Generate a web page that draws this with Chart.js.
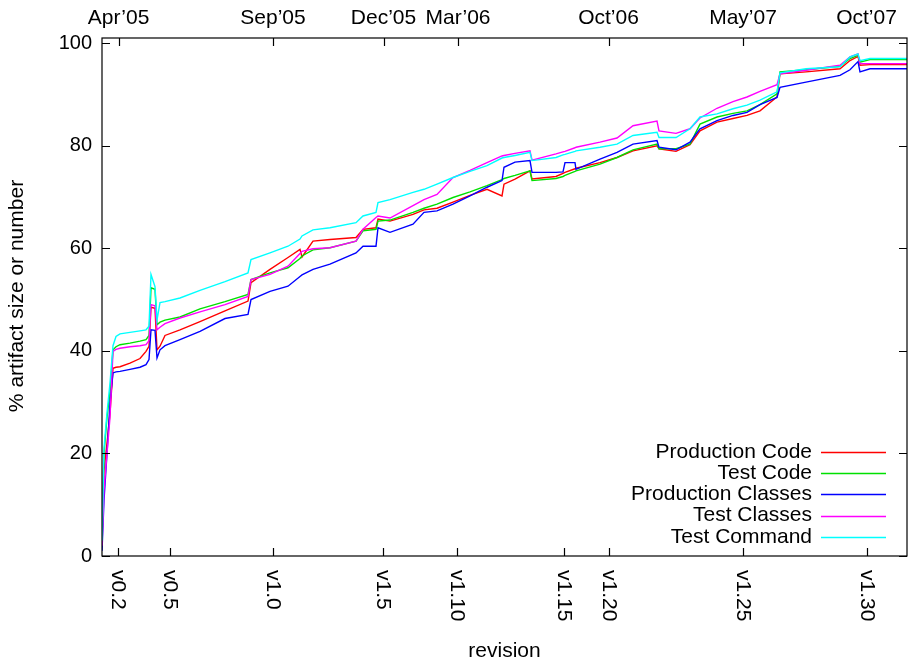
<!DOCTYPE html>
<html>
<head>
<meta charset="utf-8">
<title>Artifact growth per revision</title>
<script src="https://cdn.jsdelivr.net/npm/chart.js@4.4.0/dist/chart.umd.min.js"></script>
<style>
  html, body { margin: 0; padding: 0; background: #fff; }
  #wrap { width: 909px; height: 663px; }
</style>
</head>
<body>
<div id="wrap"><canvas id="chart" width="909" height="663"></canvas></div>
<script>
// Sampled revision numbers (x) and the share of the final size per artifact kind (%)
const revisions = [
    0, 20, 50, 80, 110, 140, 180, 280, 380, 440,
    470, 490, 530, 550, 580, 630, 780, 980, 1230, 1460,
    1490, 1680, 1860, 1980, 2000, 2110, 2280, 2540, 2610, 2740,
    2760, 2880, 3110, 3220, 3350, 3510, 3680, 3850, 4000, 4020,
    4130, 4280, 4300, 4540, 4610, 4630, 4730, 4740, 4980, 5150,
    5310, 5550, 5570, 5740, 5880, 5980, 6150, 6310, 6450, 6580,
    6750, 6780, 7040, 7380, 7480, 7560, 7580, 7680, 8050
];

const productionCode = [
    3, 16.7, 22, 27.8, 36.6, 36.8, 36.9, 37.6, 38.5, 39.9,
    40.9, 48.5, 48.3, 40.2, 40.9, 43.0, 44.1, 45.7, 47.8, 49.7,
    53.3, 55.9, 58.2, 59.8, 58.3, 61.4, 61.7, 62.1, 63.7, 64.0,
    65.7, 65.3, 66.6, 67.5, 67.8, 69.0, 70.3, 71.5, 70.2, 72.5,
    73.5, 75.1, 73.5, 74.0, 74.6, 74.8, 75.5, 75.6, 76.7, 77.7,
    79.0, 80.0, 79.4, 78.9, 80.2, 82.9, 84.6, 85.3, 85.9, 86.8,
    89.5, 94.0, 94.4, 95.0, 96.6, 97.4, 95.7, 95.8, 95.8
];

const testCode = [
    4, 20, 27, 32, 40.2, 40.8, 41.2, 41.5, 41.9, 42.2,
    43.0, 52.3, 52.0, 45.1, 45.6, 46.0, 46.6, 48.2, 49.6, 51.0,
    53.9, 55.2, 56.2, 58.0, 58.5, 59.7, 60.1, 61.4, 63.4, 63.7,
    65.3, 65.5, 67.0, 67.8, 68.6, 69.9, 71.0, 72.2, 73.4, 73.6,
    74.2, 75.1, 73.2, 73.6, 74.0, 74.2, 75.0, 75.1, 76.4, 77.7,
    79.2, 80.3, 79.4, 79.4, 80.3, 84.2, 85.6, 86.3, 86.8, 88.0,
    90.1, 94.4, 94.8, 95.5, 97.0, 97.6, 96.3, 96.8, 96.8
];

const productionClasses = [
    1, 10.9, 20, 29.8, 35.7, 35.9, 36.0, 36.4, 36.8, 37.3,
    38.3, 44.1, 44.0, 38.6, 40.2, 41.0, 42.2, 43.8, 46.3, 47.1,
    50.0, 51.6, 52.6, 54.5, 54.8, 55.9, 56.9, 59.1, 60.4, 60.4,
    64.0, 63.1, 64.7, 67.0, 67.3, 68.6, 70.2, 71.9, 73.2, 75.8,
    76.8, 77.1, 74.8, 74.8, 74.9, 76.7, 76.7, 75.4, 77.4, 78.7,
    80.3, 81.0, 79.7, 79.2, 80.7, 83.3, 84.9, 85.9, 86.5, 88.0,
    89.4, 91.4, 92.4, 93.7, 94.8, 96.4, 94.4, 95.0, 95.0
];

const testClasses = [
    2, 12.8, 20, 27, 39.9, 40.3, 40.5, 40.8, 41.0, 41.2,
    42.0, 49.0, 48.8, 44.1, 44.6, 45.3, 46.4, 47.6, 49.0, 50.6,
    53.9, 54.9, 56.5, 59.0, 59.4, 59.9, 60.1, 61.4, 63.7, 66.0,
    66.3, 65.9, 68.3, 69.5, 70.5, 73.8, 75.2, 76.7, 78.0, 78.1,
    78.5, 79.0, 77.2, 78.4, 78.8, 78.9, 79.6, 79.7, 80.7, 81.5,
    83.9, 84.8, 82.9, 82.4, 83.3, 85.4, 87.3, 88.6, 89.5, 90.6,
    91.9, 94.0, 94.7, 95.7, 97.3, 97.9, 96.0, 96.0, 96.0
];

const testCommand = [
    3, 21, 27.9, 33.7, 41.0, 42.8, 43.3, 43.6, 43.9, 44.1,
    44.8, 54.9, 52.5, 46.0, 49.4, 49.6, 50.3, 51.8, 53.5, 55.2,
    57.8, 59.1, 60.4, 61.8, 62.4, 63.6, 64.0, 65.0, 66.3, 67.0,
    68.9, 69.5, 70.9, 71.5, 72.5, 73.8, 75.0, 76.1, 77.6, 77.7,
    78.1, 78.7, 77.1, 77.7, 78.2, 78.3, 78.9, 79.0, 79.7, 80.3,
    82.0, 82.6, 81.6, 81.6, 83.3, 85.6, 86.2, 87.2, 87.9, 88.9,
    90.5, 94.2, 95.0, 95.4, 97.3, 97.9, 96.6, 97.0, 97.0
];

// Release tags along the bottom, calendar marks along the top
const releaseTicks = [160, 680, 1710, 2810, 3550, 4620, 5070, 6410, 7650];
const releaseLabels = ['v0.2', 'v0.5', 'v1.0', 'v1.5', 'v1.10', 'v1.15', 'v1.20', 'v1.25', 'v1.30'];
const dateTicks = [166, 1710, 2815, 3560, 5065, 6410, 7645];
const dateLabels = ['Apr\u201905', 'Sep\u201905', 'Dec\u201905', 'Mar\u201906', 'Oct\u201906', 'May\u201907', 'Oct\u201907'];
const percentTicks = [0, 20, 40, 60, 80, 100];

const seriesNames = ['Production Code', 'Test Code', 'Production Classes', 'Test Classes', 'Test Command'];
const seriesColors = ['#ff0000', '#00e000', '#0000ff', '#ff00ff', '#00ffff'];
const seriesValues = [productionCode, testCode, productionClasses, testClasses, testCommand];

const FONT = '"Liberation Sans", Arial, Helvetica, sans-serif';

function toPoints(values) {
    return revisions.map((r, i) => ({ x: r, y: values[i] }));
}

// gnuplot-style frame: box, inward ticks, rotated release labels, titles, key
const framePlugin = {
    id: 'framePlugin',
    afterDatasetsDraw(chart) {
        const { ctx, chartArea: a } = chart;
        const x = chart.scales.x;
        const y = chart.scales.y;
        const tick = 8;

        ctx.save();
        ctx.strokeStyle = '#000';
        ctx.lineWidth = 1.2;
        ctx.strokeRect(a.left, a.top, a.right - a.left, a.bottom - a.top);

        ctx.beginPath();
        percentTicks.forEach(v => {
            const py = Math.round(y.getPixelForValue(v)) + 0.5;
            ctx.moveTo(a.left, py);
            ctx.lineTo(a.left + tick, py);
            ctx.moveTo(a.right, py);
            ctx.lineTo(a.right - tick, py);
        });
        releaseTicks.forEach(v => {
            const px = Math.round(x.getPixelForValue(v)) + 0.5;
            ctx.moveTo(px, a.bottom);
            ctx.lineTo(px, a.bottom - tick);
        });
        dateTicks.forEach(v => {
            const px = Math.round(x.getPixelForValue(v)) + 0.5;
            ctx.moveTo(px, a.top);
            ctx.lineTo(px, a.top + tick);
        });
        ctx.stroke();

        ctx.fillStyle = '#000';
        ctx.font = '21px ' + FONT;

        // release tags read top to bottom
        releaseTicks.forEach((v, i) => {
            const px = x.getPixelForValue(v);
            ctx.save();
            ctx.translate(px, a.bottom + 14);
            ctx.rotate(Math.PI / 2);
            ctx.textAlign = 'left';
            ctx.textBaseline = 'middle';
            ctx.fillText(releaseLabels[i], 0, 0);
            ctx.restore();
        });

        // dates above the frame
        ctx.textAlign = 'center';
        ctx.textBaseline = 'middle';
        dateTicks.forEach((v, i) => {
            ctx.fillText(dateLabels[i], x.getPixelForValue(v), 18);
        });

        // axis titles
        ctx.fillText('revision', (a.left + a.right) / 2, 651);
        ctx.save();
        ctx.translate(17, 296);
        ctx.rotate(-Math.PI / 2);
        ctx.fillText('% artifact size or number', 0, 0);
        ctx.restore();

        // key: right-aligned text with a line sample after it
        const textRight = 812;
        ctx.textAlign = 'right';
        ctx.lineWidth = 1.4;
        seriesNames.forEach((name, i) => {
            const ly = 452 + i * 21.2;
            ctx.fillStyle = '#000';
            ctx.fillText(name, textRight, ly);
            ctx.strokeStyle = seriesColors[i];
            ctx.beginPath();
            ctx.moveTo(textRight + 9, Math.round(ly) + 0.5);
            ctx.lineTo(textRight + 74, Math.round(ly) + 0.5);
            ctx.stroke();
        });
        ctx.restore();
    }
};

const chart = new Chart(document.getElementById('chart'), {
    type: 'line',
    data: {
        datasets: seriesNames.map((name, i) => ({
            label: name,
            data: toPoints(seriesValues[i]),
            borderColor: seriesColors[i],
            backgroundColor: seriesColors[i],
            borderWidth: 1.4,
            pointRadius: 0,
            tension: 0,
            fill: false,
            // later series are drawn on top
            order: seriesNames.length - i
        }))
    },
    options: {
        responsive: false,
        animation: false,
        devicePixelRatio: 1,
        layout: { padding: { left: 0, right: 2, top: 38, bottom: 107 } },
        plugins: {
            legend: { display: false },
            tooltip: { enabled: false }
        },
        scales: {
            x: {
                type: 'linear',
                min: 0,
                max: 8050,
                display: false
            },
            y: {
                min: 0,
                max: 101,
                afterBuildTicks: s => { s.ticks = percentTicks.map(v => ({ value: v })); },
                afterFit: s => { s.width = 102; },
                grid: { display: false, drawTicks: false },
                border: { display: false },
                ticks: {
                    color: '#000',
                    padding: 10,
                    font: { size: 20, family: FONT }
                }
            }
        }
    },
    plugins: [framePlugin]
});
</script>
</body>
</html>
